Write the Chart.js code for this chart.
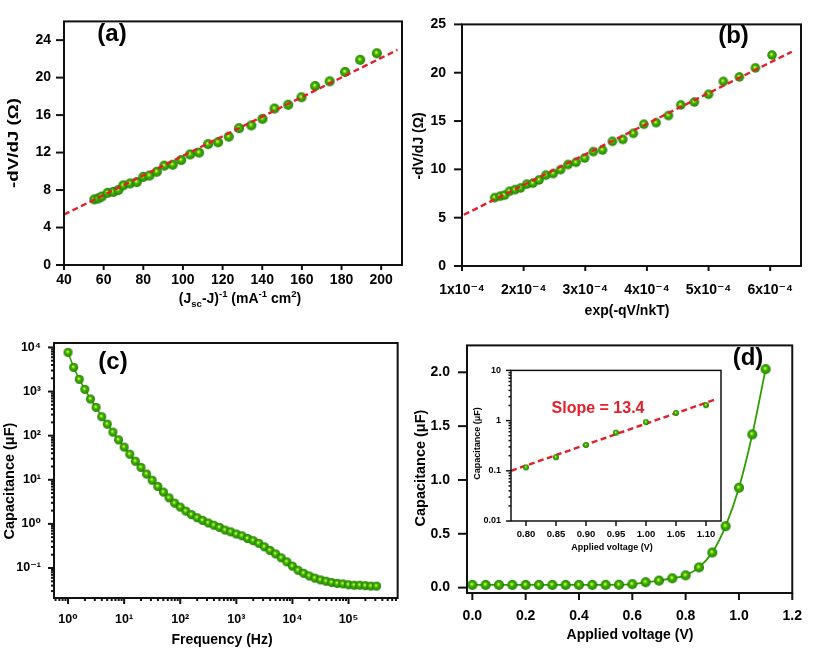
<!DOCTYPE html>
<html><head><meta charset="utf-8">
<script src="https://cdn.jsdelivr.net/npm/chart.js@4"></script>
<style>
html,body{margin:0;padding:0;background:#fff;}
#wrap{position:relative;width:817px;height:649px;overflow:hidden;background:#fff;}
canvas{position:absolute;}
</style></head><body>
<div id="wrap">
<canvas id="ca" width="410" height="320" style="left:0;top:0;width:410px;height:320px"></canvas>
<canvas id="cb" width="407" height="320" style="left:410px;top:0;width:407px;height:320px"></canvas>
<canvas id="cc" width="410" height="329" style="left:0;top:320px;width:410px;height:329px"></canvas>
<canvas id="cd" width="407" height="329" style="left:410px;top:320px;width:407px;height:329px"></canvas>
<canvas id="ci" width="272" height="200" style="left:460px;top:355px;width:272px;height:200px"></canvas>
</div>
<script>
// ---------------- DATA ----------------
// (a)
const A_X = [55.3,57.3,59.0,62.0,64.9,67.4,69.9,73.3,76.7,80.0,83.1,86.8,90.6,94.8,99.1,103.6,108.1,112.7,117.7,123.1,128.3,134.5,140.1,146.2,153.1,159.8,166.7,174.0,181.8,189.4,197.8];
const A_Y = [7.0,7.1,7.3,7.7,7.8,8.0,8.5,8.7,8.85,9.4,9.55,9.95,10.6,10.7,11.2,11.8,12.0,12.9,13.1,13.7,14.6,14.9,15.6,16.7,17.1,17.9,19.1,19.6,20.6,21.9,22.6];
const A_FIT_X = [40, 208.2];
const A_FIT_Y = [5.38, 22.96];
const A_X_TICKS = [40,60,80,100,120,140,160,180,200];
const A_Y_TICKS = [0,4,8,12,16,20,24];
// (b)
const B_X = [1.53e-4,1.62e-4,1.69e-4,1.77e-4,1.86e-4,1.95e-4,2.05e-4,2.15e-4,2.25e-4,2.36e-4,2.48e-4,2.60e-4,2.72e-4,2.85e-4,2.99e-4,3.13e-4,3.28e-4,3.44e-4,3.61e-4,3.78e-4,3.95e-4,4.15e-4,4.35e-4,4.55e-4,4.77e-4,5.00e-4,5.24e-4,5.50e-4,5.76e-4,6.03e-4];
const B_Y = [7.07,7.23,7.33,7.73,7.9,8.07,8.47,8.57,8.9,9.4,9.57,9.97,10.5,10.73,11.17,11.83,12.0,12.9,13.1,13.73,14.67,14.83,15.57,16.67,16.97,17.77,19.1,19.57,20.5,21.83];
const B_FIT_X = [1.03e-4, 6.35e-4];
const B_FIT_Y = [5.3, 22.17];
const B_X_TICKS = [1e-4,2e-4,3e-4,4e-4,5e-4,6e-4];
const B_X_LABELS = ['1x10⁻⁴','2x10⁻⁴','3x10⁻⁴','4x10⁻⁴','5x10⁻⁴','6x10⁻⁴'];
const B_Y_TICKS = [0,5,10,15,20,25];
// (c)
const C_FREQ = [1,1.259,1.585,1.995,2.512,3.162,3.981,5.012,6.310,7.943,
  10,12.59,15.85,19.95,25.12,31.62,39.81,50.12,63.10,79.43,
  100,125.9,158.5,199.5,251.2,316.2,398.1,501.2,631.0,794.3,
  1000,1259,1585,1995,2512,3162,3981,5012,6310,7943,
  10000,12589,15849,19953,25119,31623,39811,50119,63096,79433,
  100000,125893,158489,199526,251189,316228];
const C_CAP = [7700,3530,1890,1120,676,437,269,182,120,80.5,
  55,38,26.3,19.1,13.5,9.77,7.08,5.25,3.89,2.95,
  2.40,1.95,1.62,1.38,1.20,1.05,0.933,0.832,0.724,0.661,
  0.589,0.537,0.468,0.417,0.363,0.302,0.251,0.209,0.170,0.138,
  0.110,0.0891,0.0759,0.0661,0.0589,0.0537,0.0501,0.0468,0.0447,0.0437,
  0.0417,0.0407,0.0407,0.0398,0.0389,0.0389];
const C_X_TICKS = [1,10,100,1000,10000,100000];
const C_X_LABELS = ['10⁰','10¹','10²','10³','10⁴','10⁵'];
const C_Y_TICKS = [0.1,1,10,100,1000,10000];
const C_Y_LABELS = ['10⁻¹','10⁰','10¹','10²','10³','10⁴'];
// (d)
const D_V = [0,0.05,0.10,0.15,0.20,0.25,0.30,0.35,0.40,0.45,0.50,0.55,0.60,0.65,0.70,0.75,0.80,0.85,0.90,0.95,1.00,1.05,1.10];
const D_CAP = [0.025,0.025,0.025,0.025,0.025,0.025,0.025,0.025,0.025,0.025,0.026,0.027,0.032,0.05,0.065,0.087,0.114,0.188,0.326,0.571,0.928,1.423,2.03];
const D_X_TICKS = [0,0.2,0.4,0.6,0.8,1.0,1.2];
const D_X_LABELS = ['0.0','0.2','0.4','0.6','0.8','1.0','1.2'];
const D_Y_TICKS = [0,0.5,1.0,1.5,2.0];
const D_Y_LABELS = ['0.0','0.5','1.0','1.5','2.0'];
// (d) inset
const I_V = [0.80,0.85,0.90,0.95,1.00,1.05,1.10];
const I_CAP = [0.117,0.186,0.327,0.575,0.93,1.42,2.03];
const I_FIT_X = [0.775, 1.115];
const I_FIT_Y = [0.1, 2.62];
const I_X_TICKS = [0.80,0.85,0.90,0.95,1.00,1.05,1.10];
const I_X_LABELS = ['0.80','0.85','0.90','0.95','1.00','1.05','1.10'];
const I_Y_TICKS = [0.01,0.1,1,10];
const I_Y_LABELS = ['0.01','0.1','1','10'];

// ---------------- STYLE / HELPERS ----------------
const FONT = "'Liberation Sans', Arial, 'DejaVu Sans', sans-serif";
const RED = '#e3202a';
const GREEN = '#2e9e00';
Chart.defaults.font.family = FONT;
Chart.defaults.font.weight = 'bold';
Chart.defaults.color = '#000';

function ball(d) {
  const s = Math.ceil(d) + 2;
  const c = document.createElement('canvas');
  c.width = s; c.height = s;
  const g = c.getContext('2d');
  const r = d / 2, cx = s / 2, cy = s / 2;
  const gr = g.createRadialGradient(cx - r * 0.15, cy - r * 0.2, r * 0.02, cx, cy, r);
  gr.addColorStop(0, '#f2ff9a');
  gr.addColorStop(0.16, '#b4e830');
  gr.addColorStop(0.4, '#3fb500');
  gr.addColorStop(0.8, '#2a9800');
  gr.addColorStop(1, '#1a6800');
  g.fillStyle = gr;
  g.beginPath(); g.arc(cx, cy, r, 0, Math.PI * 2); g.fill();
  return c;
}

function logMinors(lo, hi) {
  const out = [];
  for (let e = Math.floor(Math.log10(lo)); e <= Math.ceil(Math.log10(hi)); e++) {
    for (let k = 2; k <= 9; k++) {
      const v = k * Math.pow(10, e);
      if (v >= lo && v <= hi) out.push(v);
    }
  }
  return out;
}

function drawRich(ctx, o) {
  const segs = typeof o.segs === 'string' ? [{t: o.segs}] : o.segs;
  const size = o.size;
  const f = (s) => `bold ${s}px ${FONT}`;
  let w = 0;
  const parts = segs.map(s => {
    const sz = s.k ? size * 0.68 : size;
    ctx.font = f(sz);
    const mw = ctx.measureText(s.t).width;
    const dy = s.k === 'sub' ? size * 0.25 : s.k === 'sup' ? -size * 0.42 : 0;
    const p = {t: s.t, sz, dy, x: w};
    w += mw;
    return p;
  });
  ctx.save();
  ctx.translate(o.x, o.y);
  if (o.rot) ctx.rotate(o.rot);
  if (o.width) ctx.scale(o.width / w, 1);
  ctx.fillStyle = o.color || '#000';
  ctx.textBaseline = 'alphabetic';
  ctx.textAlign = 'left';
  const base = size * 0.36;
  for (const p of parts) {
    ctx.font = f(p.sz);
    ctx.fillText(p.t, -w / 2 + p.x, base + p.dy);
  }
  ctx.restore();
}

function frame(cfg) {
  return {
    id: 'frame',
    afterDraw(chart) {
      const {ctx, chartArea: a} = chart;
      ctx.save();
      ctx.strokeStyle = '#111';
      ctx.lineWidth = cfg.lw || 2;
      for (const id of ['x', 'y']) {
        const sc = chart.scales[id];
        const to = cfg[id];
        for (const t of sc.ticks) {
          const p = sc.getPixelForValue(t.value);
          const len = t.mj ? to.major : to.minor;
          ctx.beginPath();
          if (id === 'x') { ctx.moveTo(p, a.bottom); ctx.lineTo(p, a.bottom + len); }
          else { ctx.moveTo(a.left, p); ctx.lineTo(a.left - len, p); }
          ctx.stroke();
        }
      }
      ctx.strokeRect(a.left, a.top, a.right - a.left, a.bottom - a.top);
      ctx.restore();
      for (const tx of (cfg.texts || [])) drawRich(ctx, tx);
    }
  };
}

function mkScale({type = 'linear', min, max, ticks, labels, minor = [], pad, fs, pos, fit}) {
  return {
    type, position: pos, min, max,
    grid: {display: false, drawTicks: false, tickLength: 0},
    border: {display: false},
    ticks: {
      autoSkip: false, maxRotation: 0, minRotation: 0, padding: pad, color: '#000',
      font: {size: fs, weight: 'bold', family: FONT},
      callback: (v) => { const i = ticks.indexOf(v); return i >= 0 ? labels[i] : ''; }
    },
    afterBuildTicks: (s) => {
      s.ticks = ticks.map(v => ({value: v, mj: true})).concat(minor.map(v => ({value: v, mj: false})));
    },
    afterFit: (s) => { if (pos === 'left') s.width = fit; else s.height = fit; }
  };
}

const pts = (xs, ys) => xs.map((x, i) => ({x, y: ys[i]}));
const common = (padding, scales) => ({
  responsive: false, animation: false, devicePixelRatio: 1, events: [],
  layout: {padding},
  plugins: {legend: {display: false}, tooltip: {enabled: false}},
  scales
});
const fitSet = (xs, ys, dash) => ({data: pts(xs, ys), showLine: true, borderColor: RED, borderWidth: 2.4, borderDash: dash, pointRadius: 0, fill: false});
const ROT = -Math.PI / 2;

// ---------------- (a) ----------------
new Chart(document.getElementById('ca'), {
  type: 'scatter',
  data: {datasets: [
    fitSet(A_FIT_X, A_FIT_Y, [6, 3.5]),
    {data: pts(A_X, A_Y), pointStyle: ball(10), pointRadius: 5}
  ]},
  options: common({left: 0, top: 15, right: 8, bottom: 0}, {
    x: mkScale({min: 40, max: 210.5, ticks: A_X_TICKS, labels: A_X_TICKS.map(String), pad: 7, fs: 14, pos: 'bottom', fit: 55}),
    y: mkScale({min: 0, max: 26, ticks: A_Y_TICKS, labels: A_Y_TICKS.map(String), pad: 13, fs: 14, pos: 'left', fit: 64})
  }),
  plugins: [frame({x: {major: 5, minor: 3}, y: {major: 8, minor: 4}, texts: [
    {segs: '-dV/dJ (Ω)', x: 13, y: 143, size: 14, rot: ROT, width: 90},
    {segs: [{t: '(J'}, {t: 'sc', k: 'sub'}, {t: '-J)'}, {t: '-1', k: 'sup'}, {t: ' (mA'}, {t: '-1', k: 'sup'}, {t: ' cm'}, {t: '2', k: 'sup'}, {t: ')'}], x: 240, y: 298, size: 14},
    {segs: '(a)', x: 112, y: 32.6, size: 24}
  ]})]
});

// ---------------- (b) ----------------
new Chart(document.getElementById('cb'), {
  type: 'scatter',
  data: {datasets: [
    fitSet(B_FIT_X, B_FIT_Y, [6, 3.5]),
    {data: pts(B_X, B_Y), pointStyle: ball(9.5), pointRadius: 5}
  ]},
  options: common({left: 0, top: 15, right: 16, bottom: 0}, {
    x: mkScale({min: 1e-4, max: 6.5e-4, ticks: B_X_TICKS, labels: B_X_LABELS, pad: 16, fs: 14, pos: 'bottom', fit: 54}),
    y: mkScale({min: 0, max: 25, ticks: B_Y_TICKS, labels: B_Y_TICKS.map(String), pad: 16, fs: 14, pos: 'left', fit: 52})
  }),
  plugins: [frame({x: {major: 5, minor: 3}, y: {major: 8, minor: 4}, texts: [
    {segs: '-dV/dJ (Ω)', x: 8, y: 146, size: 14, rot: ROT},
    {segs: 'exp(-qV/nkT)', x: 217, y: 310, size: 14},
    {segs: '(b)', x: 323.5, y: 34, size: 24}
  ]})]
});

// ---------------- (c) ----------------
const C_XMIN = 0.562, C_XMAX = 751000, C_YMIN = 0.0209, C_YMAX = 12600;
new Chart(document.getElementById('cc'), {
  type: 'scatter',
  data: {datasets: [
    {data: pts(C_FREQ, C_CAP), showLine: true, borderColor: GREEN, borderWidth: 1.5, pointStyle: ball(9), pointRadius: 4.5}
  ]},
  options: common({left: 0, top: 23, right: 11, bottom: 0}, {
    x: mkScale({type: 'logarithmic', min: C_XMIN, max: C_XMAX, ticks: C_X_TICKS, labels: C_X_LABELS, minor: logMinors(C_XMIN, C_XMAX), pad: 14, fs: 12.5, pos: 'bottom', fit: 51}),
    y: mkScale({type: 'logarithmic', min: C_YMIN, max: C_YMAX, ticks: C_Y_TICKS, labels: C_Y_LABELS, minor: logMinors(C_YMIN, C_YMAX), pad: 13, fs: 12.5, pos: 'left', fit: 54})
  }),
  plugins: [frame({x: {major: 6, minor: 3}, y: {major: 6, minor: 3}, texts: [
    {segs: 'Capacitance (μF)', x: 9, y: 161, size: 14.5, rot: ROT},
    {segs: 'Frequency (Hz)', x: 222, y: 319, size: 14},
    {segs: '(c)', x: 113, y: 40, size: 24}
  ]})]
});

// ---------------- (d) ----------------
new Chart(document.getElementById('cd'), {
  type: 'scatter',
  data: {datasets: [
    {data: pts(D_V, D_CAP), showLine: true, cubicInterpolationMode: 'monotone', borderColor: GREEN, borderWidth: 1.8, pointStyle: ball(10), pointRadius: 5}
  ]},
  options: common({left: 0, top: 23, right: 12, bottom: 0}, {
    x: mkScale({min: -0.02, max: 1.2, ticks: D_X_TICKS, labels: D_X_LABELS, pad: 15, fs: 14, pos: 'bottom', fit: 56}),
    y: mkScale({min: -0.05, max: 2.25, ticks: D_Y_TICKS, labels: D_Y_LABELS, pad: 17, fs: 14, pos: 'left', fit: 57})
  }),
  plugins: [frame({x: {major: 7, minor: 3}, y: {major: 9, minor: 4}, texts: [
    {segs: 'Capacitance (μF)', x: 10, y: 148, size: 14.5, rot: ROT},
    {segs: 'Applied voltage (V)', x: 220, y: 314, size: 14},
    {segs: '(d)', x: 338, y: 36.6, size: 24}
  ]})]
});

// ---------------- (d) inset ----------------
new Chart(document.getElementById('ci'), {
  type: 'scatter',
  data: {datasets: [
    {data: pts(I_V, I_CAP), pointStyle: ball(6), pointRadius: 3},
    fitSet(I_FIT_X, I_FIT_Y, [6, 3.5])
  ]},
  options: common({left: 0, top: 11, right: 11, bottom: 0}, {
    x: mkScale({min: 0.775, max: 1.125, ticks: I_X_TICKS, labels: I_X_LABELS, pad: 8, fs: 9.5, pos: 'bottom', fit: 34}),
    y: mkScale({type: 'logarithmic', min: 0.01, max: 10, ticks: I_Y_TICKS, labels: I_Y_LABELS, minor: logMinors(0.01, 10), pad: 10, fs: 9, pos: 'left', fit: 51})
  }),
  plugins: [frame({lw: 1.5, x: {major: 5, minor: 3}, y: {major: 5, minor: 2.5}, texts: [
    {segs: 'Capacitance (μF)', x: 16.7, y: 88.5, size: 9, rot: ROT},
    {segs: 'Applied voltage (V)', x: 152, y: 191.7, size: 9},
    {segs: 'Slope = 13.4', x: 138, y: 52.5, size: 16, color: RED}
  ]})]
});
</script>
</body></html>
